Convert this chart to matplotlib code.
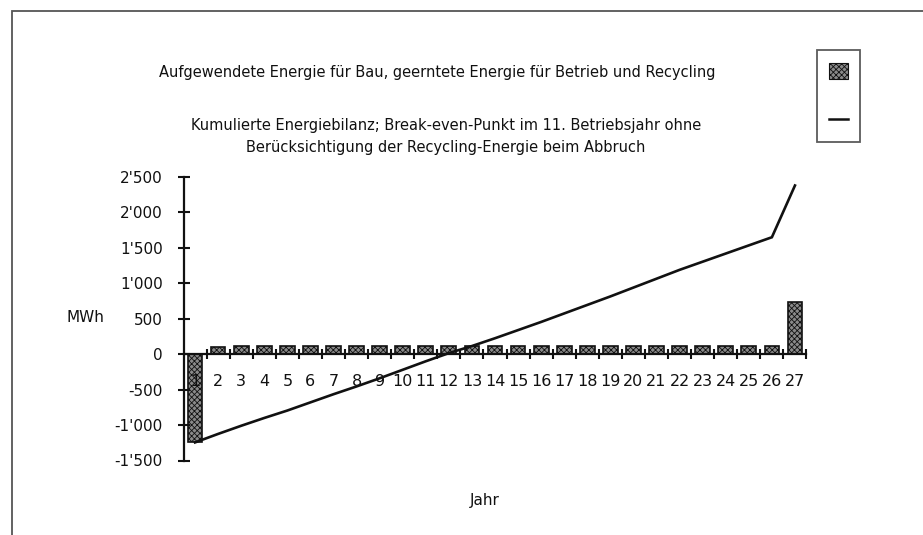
import matplotlib
matplotlib.use("Agg")
import matplotlib.pyplot as plt
from matplotlib.patches import Rectangle, Patch
from matplotlib.lines import Line2D
from matplotlib.ticker import FixedLocator, FixedFormatter

# --- data -------------------------------------------------------------
years = list(range(1, 28))
year_labels = [str(y) for y in years]

# yearly energy: construction (negative), operation gains, recycling at demolition
energy_per_year = [-1245, 108, 110, 110, 110, 112, 112, 112, 113, 113, 114,
                   114, 115, 115, 116, 116, 117, 117, 118, 118, 119, 119,
                   120, 120, 121, 121, 735]

# cumulative energy balance
cumulative_balance = [-1245, -1125, -1010, -900, -795, -680, -565, -455,
                      -340, -220, -100, 15, 115, 225, 340, 455, 575, 695,
                      815, 940, 1065, 1190, 1305, 1420, 1535, 1650, 2380]

y_ticks = [-1500, -1000, -500, 0, 500, 1000, 1500, 2000, 2500]
y_tick_labels = ["-1'500", "-1'000", "-500", "0", "500", "1'000",
                 "1'500", "2'000", "2'500"]

title_main = "Aufgewendete Energie für Bau, geerntete Energie für Betrieb und Recycling"
title_sub = ("Kumulierte Energiebilanz; Break-even-Punkt im 11. Betriebsjahr ohne\n"
             "Berücksichtigung der Recycling-Energie beim Abbruch")
y_label = "MWh"
x_label = "Jahr"

# --- figure -------------------------------------------------------------
W, H = 923, 535
plt.rcParams["font.family"] = ["DejaVu Sans"]
plt.rcParams["hatch.linewidth"] = 0.6
plt.rcParams["hatch.color"] = "#222222"

fig = plt.figure(figsize=(W / 100, H / 100), dpi=100)
fig.patch.set_facecolor("white")


def fx(px):
    return px / W


def fy(py):
    return 1 - py / H


# page frame, running off the right and bottom edges
fig.patches.append(Rectangle((fx(12), fy(600)), fx(1000), fy(11) - fy(600),
                             transform=fig.transFigure, fill=False,
                             edgecolor="#555555", linewidth=1.3))

ax_left, ax_right = 183.5, 806.5
ax_top, ax_bottom = 177.0, 460.5
ax = fig.add_axes([fx(ax_left), fy(ax_bottom),
                   fx(ax_right - ax_left), fy(ax_top) - fy(ax_bottom)])
ax.set_facecolor("none")

ink = "#111111"
ax.bar(years, energy_per_year, width=0.64, facecolor="#8a8a8a",
       edgecolor=ink, linewidth=1.2, hatch="xxxxxx", zorder=1)
ax.plot(years, cumulative_balance, color=ink, linewidth=1.9,
        solid_joinstyle="miter", zorder=2)

ax.set_xlim(0.5, 27.5)
ax.set_ylim(-1500, 2500)

for side in ("top", "right"):
    ax.spines[side].set_visible(False)
ax.spines["bottom"].set_position(("data", 0))
for side in ("left", "bottom"):
    ax.spines[side].set_linewidth(1.6)
    ax.spines[side].set_color(ink)

# y axis
ax.yaxis.set_major_locator(FixedLocator(y_ticks))
ax.yaxis.set_major_formatter(FixedFormatter(y_tick_labels))
ax.tick_params(axis="y", direction="inout", length=8, width=1.5,
               color=ink, pad=11, labelsize=11, labelcolor=ink)

# x axis: numbered categories, tick marks between categories
ax.xaxis.set_major_locator(FixedLocator(years))
ax.xaxis.set_major_formatter(FixedFormatter(year_labels))
ax.xaxis.set_minor_locator(FixedLocator([y + 0.5 for y in years]))
ax.tick_params(axis="x", which="major", length=0, pad=14, labelsize=11.5,
               labelcolor=ink)
ax.tick_params(axis="x", which="minor", direction="inout", length=7,
               width=1.5, color=ink)

# titles and axis names
fig.text(fx(437), fy(73), title_main, ha="center", va="center",
         fontsize=10.5, color=ink)
fig.text(fx(446), fy(136.5), title_sub, ha="center", va="center",
         fontsize=10.5, color=ink, linespacing=1.55)
fig.text(fx(85), fy(318), y_label, ha="center", va="center",
         fontsize=11, color=ink)
fig.text(fx(485), fy(500), x_label, ha="center", va="center",
         fontsize=11, color=ink)

# legend box without labels
handles = [Patch(facecolor="#8a8a8a", edgecolor=ink, hatch="xxxxxx",
                 linewidth=0.8),
           Line2D([], [], color=ink, linewidth=1.8)]
leg = fig.legend(handles, ["", ""], loc="upper right",
                 bbox_to_anchor=(fx(860), fy(50)), frameon=True,
                 fancybox=False, edgecolor="#333333", handlelength=1.3,
                 handleheight=1.5, handletextpad=0.0, labelspacing=2.4,
                 borderpad=0.9, borderaxespad=0.0, fontsize=10)
leg.get_frame().set_linewidth(1.3)

fig.savefig("out.png", dpi=100, facecolor="white")
